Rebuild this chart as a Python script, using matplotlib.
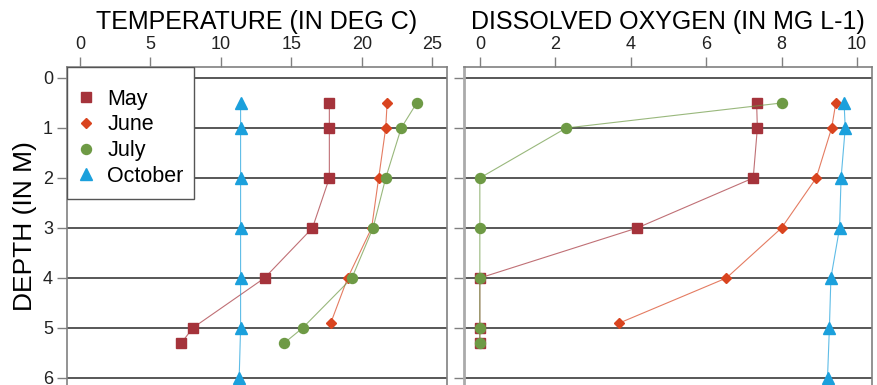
import numpy as np
import matplotlib
matplotlib.use("Agg")
import matplotlib.pyplot as plt
from matplotlib.patches import Rectangle

plt.rcParams['font.family'] = ['Liberation Sans', 'DejaVu Sans']

months = ["May", "June", "July", "October"]
colors = ["#A5333B", "#D9441F", "#6E9A45", "#1BA0DC"]
markers = ["s", "D", "o", "^"]
msizes = [7.5, 5.2, 7.2, 9]

# depth (m) per month
depth_may = [0.5, 1, 2, 3, 4, 5, 5.3]
depth_june = [0.5, 1, 2, 3, 4, 4.9]
depth_july = [0.5, 1, 2, 3, 4, 5, 5.3]
depth_oct = [0.5, 1, 2, 3, 4, 5, 6]

temp_may = [17.7, 17.7, 17.7, 16.5, 13.1, 8.0, 7.2]
temp_june = [21.8, 21.7, 21.2, 20.7, 19.0, 17.8]
temp_july = [23.9, 22.8, 21.7, 20.8, 19.3, 15.8, 14.5]
temp_oct = [11.4, 11.4, 11.4, 11.4, 11.4, 11.4, 11.3]

do_may = [7.34, 7.36, 7.25, 4.17, 0.0, 0.0, 0.0]
do_june = [9.44, 9.33, 8.92, 8.0, 6.54, 3.7]
do_july = [8.0, 2.29, 0.0, 0.0, 0.0, 0.0, 0.0]
do_oct = [9.66, 9.69, 9.58, 9.54, 9.31, 9.27, 9.22]

depths = [depth_may, depth_june, depth_july, depth_oct]
temps = [temp_may, temp_june, temp_july, temp_oct]
oxys = [do_may, do_june, do_july, do_oct]

fig = plt.figure(figsize=(8.77, 3.85), dpi=100)
ax1 = fig.add_axes([67/877, 0, 380/877, 318/385])
ax2 = fig.add_axes([464/877, 0, 408/877, 318/385])

def style(ax, xticks, xlim, title):
    ax.set_xlim(*xlim)
    ax.set_ylim(6.14, -0.22)
    ax.xaxis.tick_top()
    ax.set_xticks(xticks)
    ax.set_yticks(range(7))
    ax.tick_params(axis="both", length=7, width=1, color="#808080",
                   labelsize=13, labelcolor="#222222", pad=3)
    ax.grid(axis="y", color="#4a4a4a", lw=1.3)
    ax.grid(axis="x", visible=False)
    ax.set_axisbelow(True)
    for s in ax.spines.values():
        s.set_color("#808080")
        s.set_linewidth(1.2)
    ax.spines["bottom"].set_visible(False)
    ax.set_title(title, fontsize=18, pad=27)

style(ax1, [0, 5, 10, 15, 20, 25], (-0.92, 26.05), "TEMPERATURE (IN DEG C)")
style(ax2, [0, 2, 4, 6, 8, 10], (-0.42, 10.4), "DISSOLVED OXYGEN (IN MG L-1)")
ax2.tick_params(axis="y", labelleft=False)
ax2.spines["left"].set_linewidth(2)
ax2.spines["left"].set_color("#aaaaaa")
ax1.set_ylabel("DEPTH (IN M)", fontsize=19, labelpad=4)

for d, t, o, m, c, mk, ms in zip(depths, temps, oxys, months, colors, markers, msizes):
    ax1.plot(t, d, color=c, lw=0.8, alpha=0.7)
    ax1.plot(t, d, ls="none", marker=mk, ms=ms, color=c, mec=c, label=m)
    ax2.plot(o, d, color=c, lw=0.8, alpha=0.7)
    ax2.plot(o, d, ls="none", marker=mk, ms=ms, color=c, mec=c)

# legend box drawn separately so the inner padding can differ per side
ax1.add_patch(Rectangle((0, 0.585), 0.334, 0.415, transform=ax1.transAxes,
                        facecolor="white", edgecolor="#555555", lw=1,
                        zorder=4))
leg = ax1.legend(loc="upper left", bbox_to_anchor=(0.028, 0.932),
                 borderaxespad=0, borderpad=0, fontsize=15.5, frameon=False,
                 labelspacing=0.22, handlelength=0.8, handletextpad=0.58)
leg.set_zorder(5)

fig.savefig("out.png", dpi=100)
